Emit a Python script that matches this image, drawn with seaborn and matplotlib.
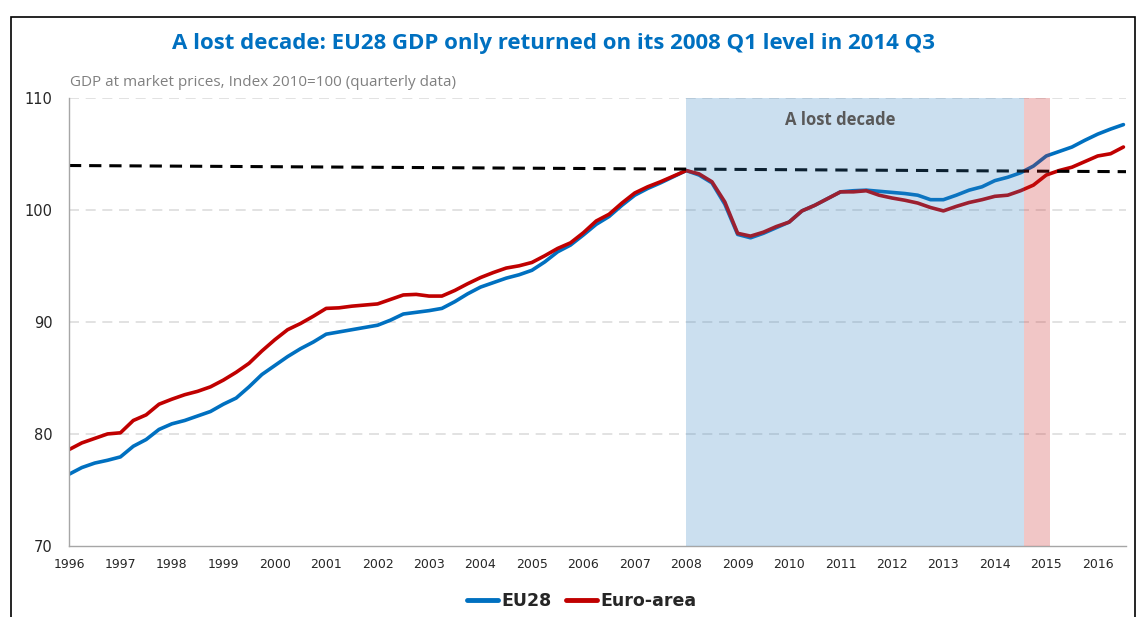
import numpy as np
import pandas as pd
import matplotlib
matplotlib.use("Agg")
import matplotlib.pyplot as plt
from matplotlib.patches import Rectangle
import seaborn as sns

# ---------------- data ----------------
start_year = 1996
eu28 = [76.4, 77.0, 77.4, 77.65, 77.95, 78.9, 79.5, 80.4, 80.9, 81.2, 81.6, 82.0,
        82.65, 83.2, 84.2, 85.3, 86.1, 86.9, 87.6, 88.2, 88.9, 89.1, 89.3, 89.5,
        89.7, 90.15, 90.7, 90.85, 91.0, 91.2, 91.8, 92.5, 93.1, 93.5, 93.9, 94.2,
        94.6, 95.35, 96.25, 96.85, 97.75, 98.7, 99.4, 100.4, 101.3, 101.9, 102.4, 102.95,
        103.5, 103.1, 102.4, 100.5, 97.8, 97.5, 97.9, 98.4, 98.9, 99.9, 100.4, 101.0,
        101.6, 101.7, 101.75, 101.65, 101.55, 101.45, 101.3, 100.9, 100.9, 101.3, 101.75, 102.05,
        102.6, 102.9, 103.3, 103.9, 104.8, 105.2, 105.6, 106.2, 106.75, 107.2, 107.6]
euro_area = [78.6, 79.2, 79.6, 80.0, 80.1, 81.2, 81.7, 82.65, 83.1, 83.5, 83.8, 84.2,
             84.8, 85.5, 86.3, 87.4, 88.4, 89.3, 89.85, 90.5, 91.2, 91.25, 91.4, 91.5,
             91.6, 92.0, 92.4, 92.45, 92.3, 92.3, 92.8, 93.4, 93.95, 94.4, 94.8, 95.0,
             95.3, 95.9, 96.55, 97.05, 97.95, 99.0, 99.6, 100.6, 101.5, 102.05, 102.5, 103.0,
             103.5, 103.2, 102.5, 100.7, 97.9, 97.65, 98.0, 98.5, 98.9, 99.9, 100.4, 101.0,
             101.6, 101.6, 101.7, 101.3, 101.05, 100.85, 100.6, 100.2, 99.9, 100.3, 100.65, 100.9,
             101.2, 101.3, 101.7, 102.2, 103.1, 103.5, 103.8, 104.3, 104.8, 105.0, 105.6]
series_names = ["EU28", "Euro-area"]
year_labels = [str(y) for y in range(1996, 2017)]
y_ticks = [70, 80, 90, 100, 110]
# 2008 Q1 reference line (start / end)
ref_x = [1996.0, 2016.55]
ref_y = [103.95, 103.4]
lost_decade = (2008.0, 2014.57)
catch_up = (2014.57, 2015.08)

title = "A lost decade: EU28 GDP only returned on its 2008 Q1 level in 2014 Q3"
subtitle = "GDP at market prices, Index 2010=100 (quarterly data)"

# ---------------- frame ----------------
n = len(eu28)
t = start_year + np.arange(n) / 4.0
df = pd.DataFrame({
    "t": np.concatenate([t, t]),
    "value": np.concatenate([eu28, euro_area]),
    "series": [series_names[0]] * n + [series_names[1]] * n,
})

sns.set_style("white")
plt.rcParams["font.family"] = ["DejaVu Sans"]

fig = plt.figure(figsize=(11.38, 6.17), dpi=100)
ax = fig.add_axes([69 / 1138, 71 / 617, 1057 / 1138, 448.3 / 617])

palette = {"EU28": "#0070C0", "Euro-area": "#C00000"}
sns.lineplot(data=df, x="t", y="value", hue="series", palette=palette,
             linewidth=2.6, ax=ax, zorder=2, legend=True)

ax.plot(ref_x, ref_y, color="black", linewidth=2.2, linestyle=(0, (4, 2.6)), zorder=2.5)

ax.axvspan(*lost_decade, color=(51 / 255, 131 / 255, 195 / 255), alpha=0.25, lw=0, zorder=3)
ax.axvspan(*catch_up, color=(203 / 255, 31 / 255, 31 / 255), alpha=0.25, lw=0, zorder=3)

ax.set_xlim(1996.0, 2016.55)
ax.set_ylim(70, 110)
ax.set_yticks(y_ticks)
ax.set_yticklabels([str(v) for v in y_ticks], fontsize=10.5, color="#262626")
ax.set_xticks(np.arange(1996, 2017))
ax.set_xticklabels(year_labels, fontsize=9, color="#262626")
ax.set_xticks(np.arange(1996, 2016.6, 0.25), minor=True)
ax.tick_params(axis="x", which="both", direction="in", length=4, color="#A6A6A6", pad=9)
ax.tick_params(axis="y", direction="out", length=4, color="#A6A6A6", pad=8)
ax.set_xlabel("")
ax.set_ylabel("")

for y in y_ticks[1:]:
    ax.axhline(y, color="#DDDDDD", linewidth=1.2, linestyle=(0, (6, 4)), zorder=1)

for s in ["top", "right"]:
    ax.spines[s].set_visible(False)
for s in ["left", "bottom"]:
    ax.spines[s].set_color("#A6A6A6")
    ax.spines[s].set_linewidth(1.0)

ax.text(2011.0, 108.0, "A lost decade", ha="center", va="center", fontsize=12,
        fontweight="bold", color="#595959", family="Open Sans", zorder=5)

fig.text(553 / 1138, 1 - 43 / 617, title, ha="center", va="center", fontsize=16,
         fontweight="bold", color="#0070C0", family="Open Sans")
fig.text(70 / 1138, 1 - 83 / 617, subtitle, ha="left", va="center", fontsize=11,
         color="#808080", family="Open Sans")

sns.move_legend(ax, "center", bbox_to_anchor=(0.485, -0.123), ncol=2, frameon=False,
                title=None, fontsize=12.5, handlelength=1.8, handletextpad=0.2,
                columnspacing=0.8)
leg = ax.get_legend()
for txt in leg.get_texts():
    txt.set_fontweight("bold")
    txt.set_color("#262626")
for line in leg.get_lines():
    line.set_linewidth(3.5)

fig.add_artist(Rectangle((11 / 1138, -0.05), (1135 - 11) / 1138, 1 - 17 / 617 + 0.05,
                         transform=fig.transFigure, fill=False, edgecolor="black",
                         linewidth=1.2))

fig.savefig("out.png", dpi=100)
